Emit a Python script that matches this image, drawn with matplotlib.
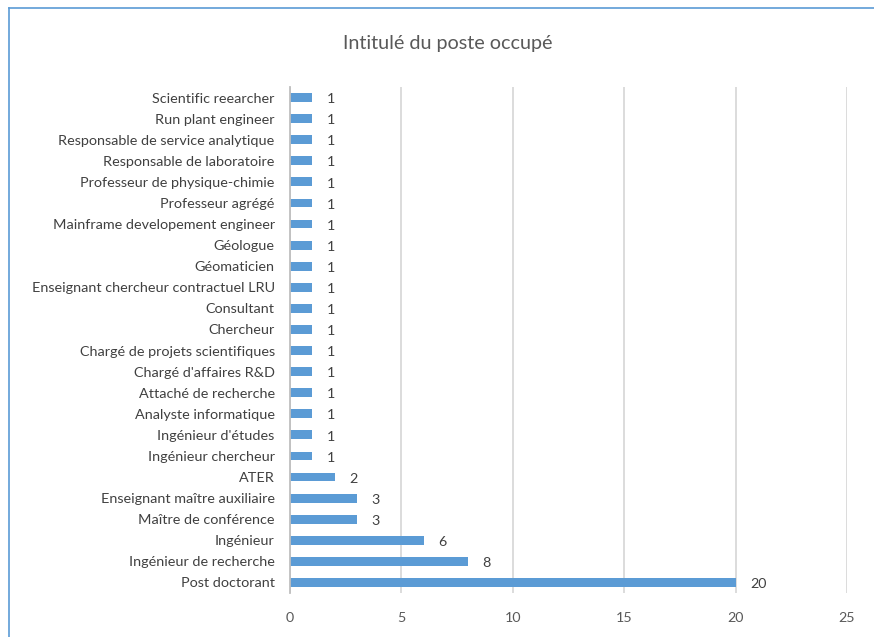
import matplotlib
matplotlib.use("Agg")
import matplotlib.pyplot as plt
from matplotlib.lines import Line2D

categories = ["Post doctorant", "Ingénieur de recherche", "Ingénieur", "Maître de conférence",
              "Enseignant maître auxiliaire", "ATER", "Ingénieur chercheur", "Ingénieur d'études",
              "Analyste informatique", "Attaché de recherche", "Chargé d'affaires R&D",
              "Chargé de projets scientifiques", "Chercheur", "Consultant",
              "Enseignant chercheur contractuel LRU", "Géomaticien", "Géologue",
              "Mainframe developement engineer", "Professeur agrégé", "Professeur de physique-chimie",
              "Responsable de laboratoire", "Responsable de service analytique",
              "Run plant engineer", "Scientific reearcher"]
values = [20, 8, 6, 3, 3, 2, 1, 1, 1, 1, 1, 1, 1, 1, 1, 1, 1, 1, 1, 1, 1, 1, 1, 1]
xticks = [0, 5, 10, 15, 20, 25]
title = "Intitulé du poste occupé"

plt.rcParams['font.family'] = ['Lato', 'DejaVu Sans']
fig = plt.figure(figsize=(8.74, 6.37), dpi=100)
ax = fig.add_axes([290/874, 1-593/637, (847-290)/874, (593-87)/637])

n = len(categories)
ypos = list(range(n))
ax.barh(ypos, values, height=0.42, color="#5B9BD5", zorder=3)
for y, v in zip(ypos, values):
    ax.text(v + 0.65, y - 0.08, str(v), va="center", ha="left", fontsize=10.3, color="#404040")

ax.set_xlim(0, 25)
ax.set_ylim(-0.5, n - 0.5)
ax.set_xticks(xticks)
ax.set_xticklabels([str(t) for t in xticks], fontsize=10.3, color="#595959")
ax.set_yticks(ypos)
ax.set_yticklabels(categories, fontsize=10.4, color="#404040")
ax.tick_params(axis="both", length=0)
ax.tick_params(axis="x", pad=14)
ax.tick_params(axis="y", pad=11)
ax.grid(axis="x", color="#D9D9D9", linewidth=1.3, zorder=0)
for s in ["top", "right", "bottom"]:
    ax.spines[s].set_visible(False)
ax.spines["left"].set_color("#BFBFBF")
ax.spines["left"].set_linewidth(1.3)
ax.spines["left"].set_zorder(4)

fig.text(448/874, 1-44/637, title, ha="center", va="center", fontsize=14.2, color="#595959")

fig.add_artist(Line2D([9/874, 9/874], [0, 1-8/637], transform=fig.transFigure, color="#5B9BD5", linewidth=1.2))
fig.add_artist(Line2D([9/874, 1], [1-8/637, 1-8/637], transform=fig.transFigure, color="#5B9BD5", linewidth=1.2))

fig.savefig("out.png", dpi=100)
